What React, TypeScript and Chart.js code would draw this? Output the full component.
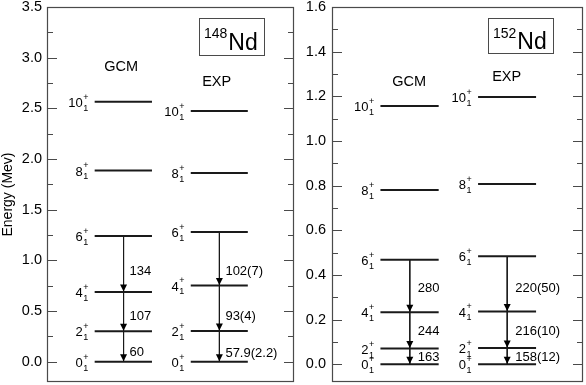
import React, { useEffect, useRef } from 'react';
import { Chart, registerables } from 'chart.js';

Chart.register(...registerables);

const FONT = '"Liberation Sans", Arial, Helvetica, sans-serif';

// ---- data ----
const spins = ['0', '2', '4', '6', '8', '10'];
const columnNames = ['GCM', 'EXP'];

const nd148Gcm = [0, 0.3, 0.687, 1.24, 1.887, 2.564];
const nd148Exp = [0, 0.302, 0.752, 1.279, 1.861, 2.475];
const nd148GcmBE2 = ['60', '107', '134'];
const nd148ExpBE2 = ['57.9(2.2)', '93(4)', '102(7)'];

const nd152Gcm = [0, 0.07, 0.232, 0.468, 0.78, 1.157];
const nd152Exp = [0, 0.072, 0.236, 0.483, 0.807, 1.197];
const nd152GcmBE2 = ['163', '244', '280'];
const nd152ExpBE2 = ['158(12)', '216(10)', '220(50)'];

const nd148MajorTicks = [0, 0.5, 1.0, 1.5, 2.0, 2.5, 3.0, 3.5];
const nd148MinorTicks = [0.25, 0.75, 1.25, 1.75, 2.25, 2.75, 3.25];
const nd152MajorTicks = [0, 0.2, 0.4, 0.6, 0.8, 1.0, 1.2, 1.4, 1.6];
const nd152MinorTicks = [0.1, 0.3, 0.5, 0.7, 0.9, 1.1, 1.3, 1.5];

// ---- layout (not data) ----
const COLS = [
  { x0: 1.93, x1: 4.25, arrow: 3.1 },
  { x0: 5.82, x1: 8.13, arrow: 6.98 },
];

type Panel = {
  mass: string;
  levels: number[][];
  be2: string[][];
  be2At: number[][];
  headers: number[][];
  yMin: number;
  yMax: number;
  major: number[];
  minor: number[];
  axisWidth: number;
  padRight: number;
  width: number;
  left: number;
  labelDx: number;
  title?: string;
  boxH: number;
};

const panels: Panel[] = [
  {
    mass: '148',
    levels: [nd148Gcm, nd148Exp],
    be2: [nd148GcmBE2, nd148ExpBE2],
    be2At: [
      [0.089, 0.444, 0.888],
      [0.079, 0.444, 0.888],
    ],
    headers: [
      [3.0, 2.912],
      [6.87, 2.76],
    ],
    yMin: -0.2,
    yMax: 3.5,
    major: nd148MajorTicks,
    minor: nd148MinorTicks,
    axisWidth: 47,
    padRight: 6,
    width: 300,
    left: 0,
    labelDx: 6,
    title: 'Energy (Mev)',
    boxH: 37,
  },
  {
    mass: '152',
    levels: [nd152Gcm, nd152Exp],
    be2: [nd152GcmBE2, nd152ExpBE2],
    be2At: [
      [0.031, 0.148, 0.341],
      [0.031, 0.148, 0.341],
    ],
    headers: [
      [3.07, 1.265],
      [6.96, 1.288],
    ],
    yMin: -0.08,
    yMax: 1.6,
    major: nd152MajorTicks,
    minor: nd152MinorTicks,
    axisWidth: 32,
    padRight: 3,
    width: 286,
    left: 300,
    labelDx: 8,
    boxH: 35,
  },
];

function buildDatasets(p: Panel) {
  const ds: any[] = [];
  p.levels.forEach((lv, c) => {
    const col = COLS[c];
    lv.forEach((e) => {
      ds.push({
        data: [
          { x: col.x0, y: e },
          { x: col.x1, y: e },
        ],
        showLine: true,
        borderColor: '#1a1a1a',
        borderWidth: 2,
        pointRadius: 0,
      });
    });
    for (let i = 0; i < 3; i++) {
      ds.push({
        data: [
          { x: col.arrow, y: lv[i + 1] },
          { x: col.arrow, y: lv[i] },
        ],
        showLine: true,
        borderColor: '#1a1a1a',
        borderWidth: 1,
        pointRadius: 0,
      });
    }
  });
  return ds;
}

function makePlugin(p: Panel) {
  return {
    id: 'levelScheme' + p.mass,
    afterDraw(chart: any) {
      const ctx = chart.ctx as CanvasRenderingContext2D;
      const { left, right, top, bottom } = chart.chartArea;
      const xs = chart.scales.x;
      const ys = chart.scales.y;
      ctx.save();

      // frame
      ctx.strokeStyle = '#4a4a4a';
      ctx.lineWidth = 1.2;
      ctx.strokeRect(left + 0.5, top + 0.5, right - left - 1, bottom - top - 1);

      // ticks inside on both sides
      ctx.lineWidth = 1;
      const tick = (v: number, len: number) => {
        const y = Math.round(ys.getPixelForValue(v)) + 0.5;
        ctx.beginPath();
        ctx.moveTo(left, y);
        ctx.lineTo(left + len, y);
        ctx.moveTo(right - len, y);
        ctx.lineTo(right, y);
        ctx.stroke();
      };
      p.major.forEach((v) => tick(v, 10));
      p.minor.forEach((v) => tick(v, 6));

      ctx.fillStyle = '#000';

      // arrowheads
      p.levels.forEach((lv, c) => {
        const ax = xs.getPixelForValue(COLS[c].arrow);
        for (let i = 0; i < 3; i++) {
          const yt = ys.getPixelForValue(lv[i]) - 0.5;
          ctx.beginPath();
          ctx.moveTo(ax, yt);
          ctx.lineTo(ax - 3.5, yt - 7);
          ctx.lineTo(ax + 3.5, yt - 7);
          ctx.closePath();
          ctx.fill();
        }
      });

      // level spin labels
      p.levels.forEach((lv, c) => {
        const x0 = xs.getPixelForValue(COLS[c].x0);
        lv.forEach((e, i) => {
          const y = ys.getPixelForValue(e);
          ctx.textBaseline = 'middle';
          ctx.textAlign = 'right';
          ctx.font = `13px ${FONT}`;
          ctx.fillText(spins[i], x0 - 12, y + 1.5);
          ctx.textAlign = 'left';
          ctx.font = `9px ${FONT}`;
          ctx.fillText('+', x0 - 11.5, y - 4.5);
          ctx.fillText('1', x0 - 11.5, y + 6.5);
        });
      });

      // transition labels
      ctx.font = `13px ${FONT}`;
      ctx.textAlign = 'left';
      ctx.textBaseline = 'middle';
      p.be2.forEach((labels, c) => {
        const ax = xs.getPixelForValue(COLS[c].arrow);
        labels.forEach((t, i) => {
          ctx.fillText(t, ax + p.labelDx, ys.getPixelForValue(p.be2At[c][i]));
        });
      });

      // column headers
      ctx.font = `14.5px ${FONT}`;
      ctx.textAlign = 'center';
      p.headers.forEach((h, c) => {
        ctx.fillText(columnNames[c], xs.getPixelForValue(h[0]), ys.getPixelForValue(h[1]));
      });

      // nucleus box
      const bR = right - 30;
      const bL = bR - 65;
      const bT = top + 11;
      ctx.strokeStyle = '#4a4a4a';
      ctx.lineWidth = 1;
      ctx.strokeRect(Math.round(bL) + 0.5, Math.round(bT) + 0.5, 65, p.boxH);
      ctx.textAlign = 'left';
      ctx.textBaseline = 'alphabetic';
      ctx.font = `14px ${FONT}`;
      ctx.fillText(p.mass, bL + 5, bT + 19.5);
      const mw = ctx.measureText(p.mass).width;
      ctx.font = `23px ${FONT}`;
      ctx.fillText('Nd', bL + 6 + mw, bT + (p.boxH === 37 ? 32 : 31));

      // y title
      if (p.title) {
        ctx.translate(8, (top + bottom) / 2);
        ctx.rotate(-Math.PI / 2);
        ctx.font = `14px ${FONT}`;
        ctx.textAlign = 'center';
        ctx.textBaseline = 'middle';
        ctx.fillText(p.title, 0, 0);
      }
      ctx.restore();
    },
  };
}

function PanelChart({ p }: { p: Panel }) {
  const ref = useRef<HTMLCanvasElement | null>(null);
  useEffect(() => {
    if (!ref.current) return;
    const chart = new Chart(ref.current, {
      type: 'scatter',
      data: { datasets: buildDatasets(p) },
      options: {
        animation: false,
        responsive: false,
        devicePixelRatio: 1,
        layout: { padding: { left: 0, right: p.padRight, top: 7, bottom: 3 } },
        plugins: { legend: { display: false }, tooltip: { enabled: false } },
        scales: {
          x: { type: 'linear', min: 0, max: 10, display: false },
          y: {
            type: 'linear',
            min: p.yMin,
            max: p.yMax,
            afterBuildTicks: (s: any) => {
              s.ticks = p.major.map((v) => ({ value: v }));
            },
            afterFit: (s: any) => {
              s.width = p.axisWidth;
              s.paddingTop = 0;
              s.paddingBottom = 0;
            },
            ticks: {
              callback: (v: any) => Number(v).toFixed(1),
              font: { family: FONT, size: 14.5 },
              color: '#000',
              padding: p.left === 0 ? 5 : 6,
            },
            grid: { display: false, drawTicks: false },
            border: { display: false },
          },
        },
      } as any,
      plugins: [makePlugin(p)],
    });
    return () => chart.destroy();
  }, [p]);
  return (
    <canvas
      ref={ref}
      width={p.width}
      height={385}
      style={{ position: 'absolute', left: p.left, top: 0, width: p.width, height: 385 }}
    />
  );
}

export default function App() {
  return (
    <div
      style={{
        position: 'fixed',
        left: 0,
        top: 0,
        width: 586,
        height: 385,
        background: '#fff',
        overflow: 'hidden',
      }}
    >
      {panels.map((p) => (
        <PanelChart key={p.mass} p={p} />
      ))}
    </div>
  );
}
